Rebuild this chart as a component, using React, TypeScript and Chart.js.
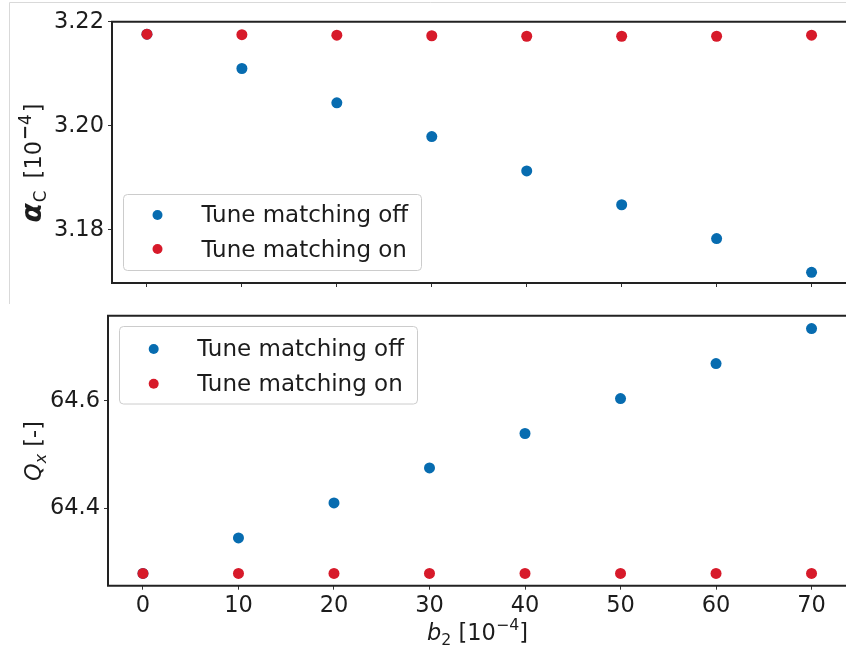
import { useEffect, useRef } from "react";
import { Chart, registerables } from "chart.js";

Chart.register(...registerables);

// b2 sweep [1e-4]
const B2 = [0, 10, 20, 30, 40, 50, 60, 70];

// Momentum compaction alpha_C [1e-4]
const ALPHA_C_OFF = [3.2176, 3.211, 3.2044, 3.1979, 3.1913, 3.1848, 3.1783, 3.1718];
const ALPHA_C_ON = [3.2176, 3.2175, 3.2174, 3.2173, 3.2172, 3.2172, 3.2172, 3.2174];

// Horizontal tune Q_x
const QX_OFF = [64.279, 64.345, 64.41, 64.475, 64.539, 64.604, 64.669, 64.734];
const QX_ON = [64.279, 64.279, 64.279, 64.279, 64.279, 64.279, 64.279, 64.279];

const B2_TICKS = [0, 10, 20, 30, 40, 50, 60, 70];
const ALPHA_C_TICKS = [3.18, 3.2, 3.22];
const QX_TICKS = [64.4, 64.6];

const SERIES_LABELS = ["Tune matching off", "Tune matching on"];

const BLUE = "#076cb0";
const RED = "#d71a2a";
const INK = "#1c1c1c";
const FONT = "DejaVu Sans";

type Run = { t: string; style?: string; scale?: number; rise?: number; gap?: number };

function fontFor(r: Run, size: number) {
  return `${r.style ?? "normal"} ${size * (r.scale ?? 1)}px "${FONT}"`;
}

// Draws a run of mixed-style text centred on cx with its baseline at y.
function drawRuns(ctx: CanvasRenderingContext2D, runs: Run[], cx: number, y: number, size: number) {
  const widths = runs.map((r) => {
    ctx.font = fontFor(r, size);
    return ctx.measureText(r.t).width + (r.gap ?? 0);
  });
  const total = widths.reduce((a, b) => a + b, 0);
  let x = cx - total / 2;
  ctx.textAlign = "left";
  ctx.textBaseline = "alphabetic";
  ctx.fillStyle = INK;
  runs.forEach((r, i) => {
    ctx.font = fontFor(r, size);
    ctx.fillText(r.t, x + (r.gap ?? 0), y - (r.rise ?? 0) * size);
    x += widths[i];
  });
}

const panelDecor = {
  id: "panelDecor",
  afterDraw(chart: any, _args: any, opts: any) {
    const ctx: CanvasRenderingContext2D = chart.ctx;
    const a = chart.chartArea;
    ctx.save();

    // keep the strip right of the data clear up to the visible edge
    ctx.fillStyle = "#ffffff";
    ctx.fillRect(a.right - 8, a.top + 2, chart.width, a.bottom - a.top - 4);

    if (opts.frame) {
      ctx.strokeStyle = "#d9d9d9";
      ctx.lineWidth = 1;
      ctx.beginPath();
      ctx.moveTo(9.5, opts.frame.bottom);
      ctx.lineTo(9.5, 2.5);
      ctx.lineTo(chart.width, 2.5);
      ctx.stroke();
    }

    // axes spines (the right one lies past the visible edge)
    ctx.strokeStyle = "#222222";
    ctx.lineWidth = 2;
    ctx.beginPath();
    ctx.moveTo(chart.width, a.top);
    ctx.lineTo(a.left, a.top);
    ctx.lineTo(a.left, a.bottom);
    ctx.lineTo(chart.width, a.bottom);
    ctx.stroke();

    // legend
    const lg = opts.legend;
    const r = 4;
    ctx.beginPath();
    ctx.moveTo(lg.x + r, lg.y);
    ctx.arcTo(lg.x + lg.w, lg.y, lg.x + lg.w, lg.y + lg.h, r);
    ctx.arcTo(lg.x + lg.w, lg.y + lg.h, lg.x, lg.y + lg.h, r);
    ctx.arcTo(lg.x, lg.y + lg.h, lg.x, lg.y, r);
    ctx.arcTo(lg.x, lg.y, lg.x + lg.w, lg.y, r);
    ctx.closePath();
    ctx.fillStyle = "rgba(255,255,255,0.85)";
    ctx.fill();
    ctx.strokeStyle = "#cccccc";
    ctx.lineWidth = 1;
    ctx.stroke();
    chart.data.datasets.forEach((ds: any, i: number) => {
      ctx.beginPath();
      ctx.arc(lg.markerX, lg.markerY[i], 5, 0, Math.PI * 2);
      ctx.fillStyle = ds.backgroundColor;
      ctx.fill();
      ctx.fillStyle = INK;
      ctx.font = `23px "${FONT}"`;
      ctx.textAlign = "left";
      ctx.textBaseline = "alphabetic";
      ctx.fillText(ds.label, lg.textX, lg.textY[i]);
    });

    // y axis title (rotated)
    const yt = opts.yTitle;
    ctx.save();
    ctx.translate(yt.x, yt.y);
    ctx.rotate(-Math.PI / 2);
    drawRuns(ctx, yt.runs, 0, 0, 22.5);
    ctx.restore();

    // x axis title
    if (opts.xTitle) {
      drawRuns(ctx, opts.xTitle.runs, opts.xTitle.x, opts.xTitle.y, 22.5);
    }
    ctx.restore();
  },
};

type PanelSpec = {
  off: number[];
  on: number[];
  yTicks: number[];
  yDigits: number;
  yMin: number;
  yMax: number;
  xMin: number;
  xMax: number;
  padTop: number;
  yAxisWidth: number;
  xAxisHeight: number;
  showXLabels: boolean;
  decor: any;
};

function makeConfig(p: PanelSpec): any {
  const tickFont = { family: FONT, size: 22.5 };
  return {
    type: "scatter",
    data: {
      datasets: [
        {
          label: SERIES_LABELS[0],
          data: B2.map((x, i) => ({ x, y: p.off[i] })),
          backgroundColor: BLUE,
          pointRadius: 5.5,
          pointBorderWidth: 0,
          order: 1,
        },
        {
          label: SERIES_LABELS[1],
          data: B2.map((x, i) => ({ x, y: p.on[i] })),
          backgroundColor: RED,
          pointRadius: 5.5,
          pointBorderWidth: 0,
          order: 0,
        },
      ],
    },
    options: {
      responsive: false,
      animation: false,
      events: [],
      layout: { padding: { top: p.padTop, right: 4, left: 0, bottom: 0 } },
      plugins: {
        legend: { display: false },
        tooltip: { enabled: false },
        panelDecor: p.decor,
      },
      scales: {
        x: {
          type: "linear",
          min: p.xMin,
          max: p.xMax,
          afterBuildTicks: (s: any) => {
            s.ticks = B2_TICKS.map((v) => ({ value: v }));
          },
          afterFit: (s: any) => {
            s.height = p.xAxisHeight;
            s.paddingLeft = 0;
            s.paddingRight = 0;
          },
          grid: { display: true, drawOnChartArea: false, drawTicks: true, tickLength: 4, tickColor: "#333333", lineWidth: 1 },
          border: { display: false },
          ticks: {
            display: p.showXLabels,
            font: tickFont,
            color: INK,
            padding: 3,
            maxRotation: 0,
            callback: (v: number) => String(v),
          },
        },
        y: {
          type: "linear",
          min: p.yMin,
          max: p.yMax,
          afterBuildTicks: (s: any) => {
            s.ticks = p.yTicks.map((v) => ({ value: v }));
          },
          afterFit: (s: any) => {
            s.width = p.yAxisWidth;
            s.paddingTop = 0;
            s.paddingBottom = 0;
          },
          grid: { display: true, drawOnChartArea: false, drawTicks: true, tickLength: 4, tickColor: "#333333", lineWidth: 1 },
          border: { display: false },
          ticks: {
            font: tickFont,
            color: INK,
            padding: 4,
            callback: (v: number) => v.toFixed(p.yDigits),
          },
        },
      },
    },
    plugins: [panelDecor],
  };
}

const TOP_H = 305;
const BOTTOM_TOP = 303;
const BOTTOM_H = 650 - BOTTOM_TOP;
const CANVAS_W = 852;

export default function App() {
  const topRef = useRef<HTMLCanvasElement>(null);
  const bottomRef = useRef<HTMLCanvasElement>(null);

  useEffect(() => {
    const top = new Chart(
      topRef.current!,
      makeConfig({
        off: ALPHA_C_OFF,
        on: ALPHA_C_ON,
        yTicks: ALPHA_C_TICKS,
        yDigits: 2,
        yMin: 3.16975,
        yMax: 3.22,
        xMin: -3.68,
        xMax: 73.68,
        padTop: 21.7,
        yAxisWidth: 112,
        xAxisHeight: TOP_H - 283,
        showXLabels: false,
        decor: {
          frame: { bottom: 304 },
          legend: { x: 123.5, y: 194.5, w: 298, h: 76, markerX: 157.5, markerY: [215, 249], textX: 201.5, textY: [222, 257] },
          yTitle: {
            x: 41,
            y: 163,
            runs: [
              { t: "α", style: "italic bold", scale: 1.25 },
              { t: "C", scale: 0.75, rise: -0.22, gap: 1 },
              { t: " [10", gap: 5 },
              { t: "−", style: "bold", scale: 0.8, rise: 0.45, gap: 1 },
              { t: "4", scale: 0.75, rise: 0.45 },
              { t: "]", gap: 2 },
            ],
          },
        },
      })
    );
    const bottom = new Chart(
      bottomRef.current!,
      makeConfig({
        off: QX_OFF,
        on: QX_ON,
        yTicks: QX_TICKS,
        yDigits: 1,
        yMin: 64.2561,
        yMax: 64.758,
        xMin: -3.66,
        xMax: 73.66,
        padTop: 315.7 - BOTTOM_TOP,
        yAxisWidth: 108,
        xAxisHeight: 650 - 585.7,
        showXLabels: true,
        decor: {
          legend: { x: 119.5, y: 23.5, w: 298, h: 77.5, markerX: 153.7, markerY: [46, 80.7], textX: 197.3, textY: [53, 87.7] },
          yTitle: {
            x: 41,
            y: 148,
            runs: [
              { t: "Q", style: "italic" },
              { t: "x", style: "italic", scale: 0.7, rise: -0.2 },
              { t: " [-]" },
            ],
          },
          xTitle: {
            x: 477.5,
            y: 337,
            runs: [
              { t: "b", style: "italic" },
              { t: "2", scale: 0.7, rise: -0.2 },
              { t: " [10" },
              { t: "−4", scale: 0.7, rise: 0.45 },
              { t: "]" },
            ],
          },
        },
      })
    );
    return () => {
      top.destroy();
      bottom.destroy();
    };
  }, []);

  return (
    <div style={{ position: "fixed", left: 0, top: 0, width: 846, height: 650, overflow: "hidden", background: "#ffffff" }}>
      <div style={{ position: "relative", width: CANVAS_W, height: 650 }}>
        <canvas ref={topRef} width={CANVAS_W} height={TOP_H} style={{ position: "absolute", left: 0, top: 0, width: CANVAS_W, height: TOP_H }} />
        <canvas
          ref={bottomRef}
          width={CANVAS_W}
          height={BOTTOM_H}
          style={{ position: "absolute", left: 0, top: BOTTOM_TOP, width: CANVAS_W, height: BOTTOM_H }}
        />
      </div>
    </div>
  );
}
